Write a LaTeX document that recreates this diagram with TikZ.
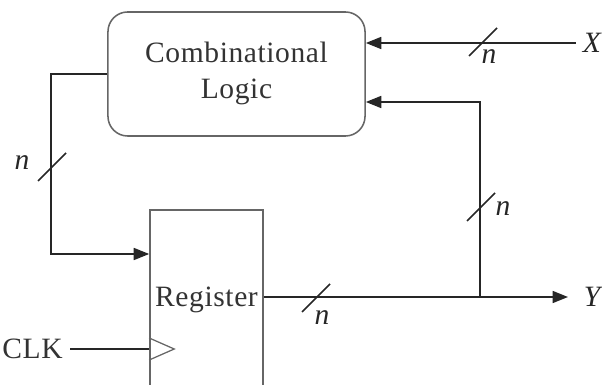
\documentclass[tikz,border=0pt]{standalone}
\usepackage{fontspec}
\setmainfont{Liberation Serif}
\usepackage{tikz}
\usetikzlibrary{calc}
\usetikzlibrary{arrows.meta}

\begin{document}
\begin{tikzpicture}[x=0.025cm,y=-0.025cm,
  wire/.style={line width=1.3pt,draw=black!85},
  box/.style={draw=black!60,line width=1.1pt},
  lbl/.style={font=\fontsize{21}{25.5}\selectfont\addfontfeatures{LetterSpace=2},text=black!80},
  bus/.style={font=\fontsize{21}{25}\selectfont\itshape,text=black!85},
  >={Triangle[length=11pt,width=8.5pt]}]
  % Boundary
  \path[use as bounding box] (0,0) rectangle (602,385);
  \clip (0,0) rectangle (602,385);
  % Blocks
  \node[box,lbl,rounded corners=14pt,minimum width=6.425cm,minimum height=3.1cm,align=center,text depth=5pt] (comb) at (236.5,74) {Combinational\\Logic};
  \node[box,lbl,minimum width=2.825cm,minimum height=4.5cm] (reg) at (206.5,300) {Register};
  % Terminals
  \node[lbl,anchor=east,inner sep=5pt] (clk) at (70,349) {CLK};
  \node[bus,inner sep=5pt] (xin) at (592,43) {X};
  \node[bus,inner sep=5pt] (yout) at (592,297) {Y};
  \coordinate (tap) at (480,297);
  \coordinate (fbin) at (comb.east |- 0,102);
  \coordinate (regin) at (reg.west |- 0,254);
  % Wires
  \draw[wire,->] (xin.west) -- (xin.west -| comb.east);
  \draw[wire,->,shorten >=6pt] (reg.east |- tap) -- (yout.west);
  \draw[wire,->] (tap) |- (fbin);
  \draw[wire,->] (comb.west) -- ++(-56,0) |- (regin);
  \draw[wire] (clk.east) -- (clk.east -| reg.west);
  % Clock input
  \draw[box,line width=0.9pt] ($(reg.west |- clk.east)+(0,-11)$) -- ++(25,11) -- ++(-25,11);
  % Bus widths
  \foreach \p in {(52,167),(483,42),(481,207),(316,298)}
    \draw[wire,line width=1.1pt] \p ++(-14,14) -- ++(28,-28);
  \node[bus] (n1) at (22,163) {n};
  \node[bus] (n2) at (489,57) {n};
  \node[bus] (n3) at (503,209) {n};
  \node[bus] (n4) at (322,318) {n};
\end{tikzpicture}
\end{document}
